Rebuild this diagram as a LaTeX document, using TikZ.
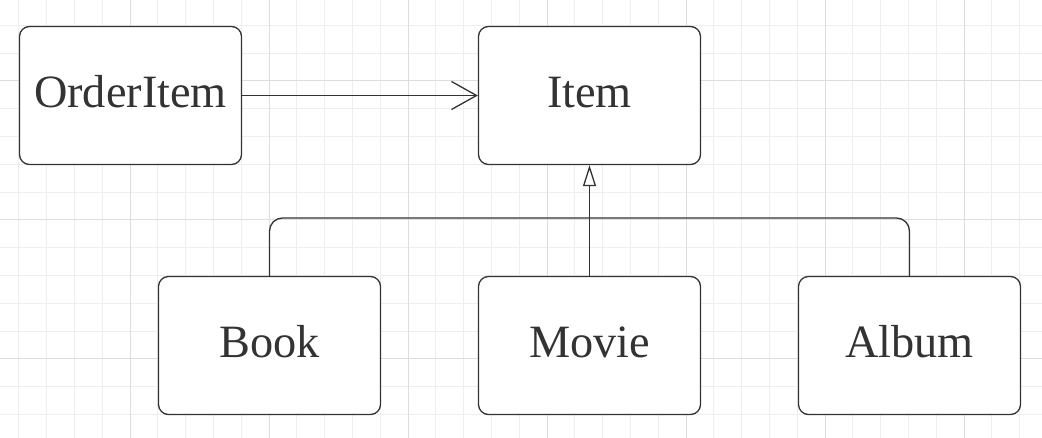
\documentclass[tikz,border=0pt]{standalone}
\usepackage{fontspec}
\setmainfont{Liberation Serif}
\usetikzlibrary{arrows.meta}
\definecolor{ink}{HTML}{333333}
\definecolor{gridminor}{HTML}{EEEEEE}
\definecolor{gridmajor}{HTML}{DDDDDD}
\tikzset{
  box/.style={draw=ink, line width=1.3pt, rounded corners=10pt, fill=white,
    minimum width=222pt, minimum height=138pt, inner sep=0pt,
    text height=25pt, text depth=0pt,
    font=\fontsize{46.3}{50}\selectfont, text=ink},
  conn/.style={draw=ink, line width=1.3pt},
  openarrow/.style={-{Straight Barb[length=25pt,width=28pt,line width=1.3pt]}},
  inherit/.style={-{Triangle[open,length=21pt,width=13pt,line width=1.3pt,fill=white]}},
}
\begin{document}
\begin{tikzpicture}[x=1pt,y=-1pt]
\useasboundingbox (0,0) rectangle (1042,438);
\fill[white] (0,0) rectangle (1042,438);
% grid minor
\foreach \i in {-5,...,38} {
  \draw[gridminor, line width=1pt] ({130+27.8*\i},0) -- ({130+27.8*\i},438);
}
\foreach \j in {-3,...,13} {
  \draw[gridminor, line width=1pt] (0,{81+27.8*\j}) -- (1042,{81+27.8*\j});
}
\foreach \i in {-1,...,7} {
  \draw[gridmajor, line width=1pt] ({130+139*\i},0) -- ({130+139*\i},438);
}
\foreach \j in {0,1,2} {
  \draw[gridmajor, line width=1pt] (0,{81+139*\j}) -- (1042,{81+139*\j});
}
% nodes
\node[box] (orderitem) at (130.5,95.5) {OrderItem};
\node[box] (item) at (589.5,95.5) {Item};
\node[box] (book) at (269.5,345.5) {Book};
\node[box] (movie) at (589.5,345.5) {Movie};
\node[box] (album) at (909.5,345.5) {Album};
\coordinate (bus) at (589.5,218);
% connectors
\draw[conn, openarrow] (orderitem.east) -- (item.west);
\draw[conn, inherit] (movie.north) -- (item.south);
\draw[conn, rounded corners=13pt] (book.north) |- (bus) -| (album.north);
\end{tikzpicture}
\end{document}
